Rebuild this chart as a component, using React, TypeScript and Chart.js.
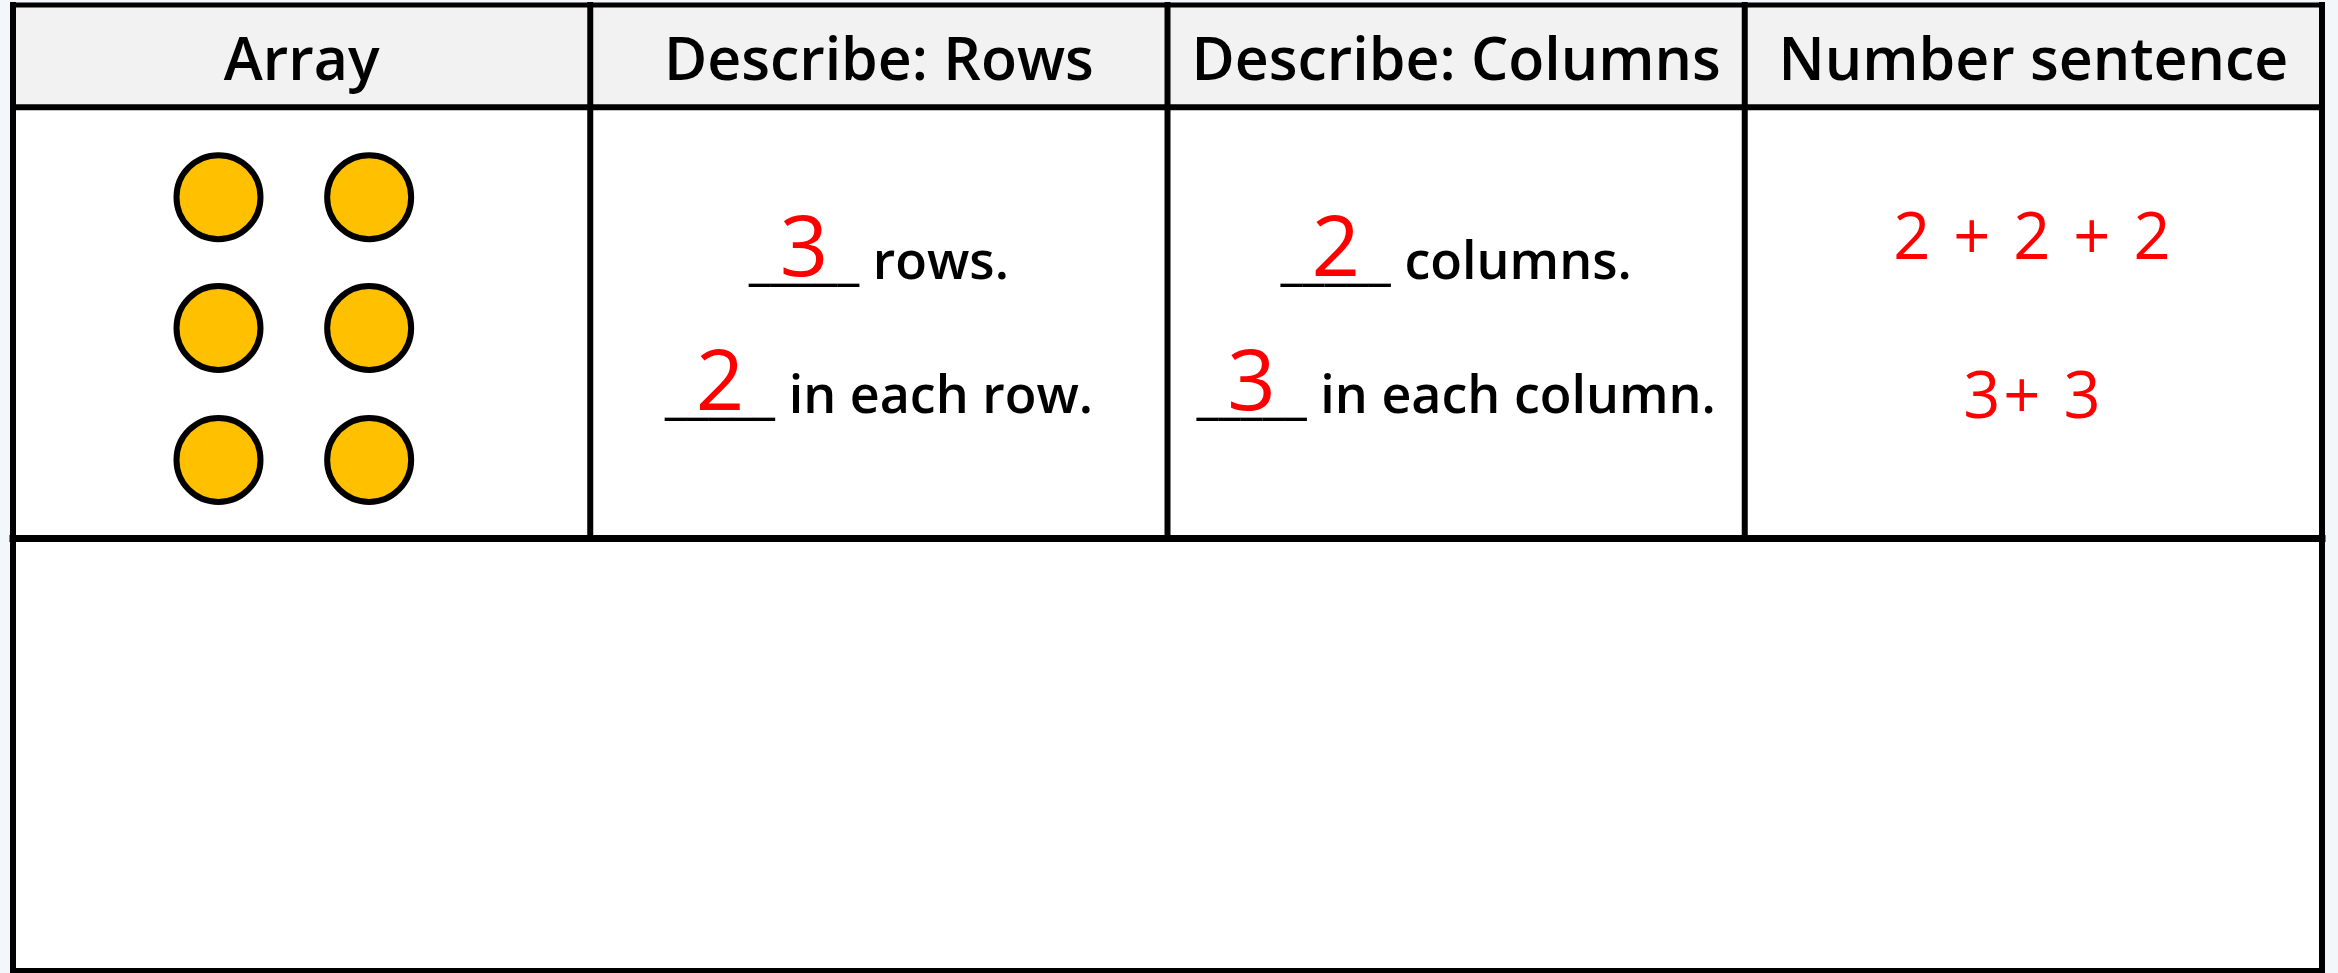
import React, { useEffect, useRef } from "react";
import { Chart, registerables } from "chart.js";
Chart.register(...registerables);

// ---- data ----
const headers = ["Array", "Describe: Rows", "Describe: Columns", "Number sentence"];
const colEdges = [0, 1, 2, 3, 4];
const rowEdges = [0, 1, 5.22, 9.45];
const arrayColumns = [0.356, 0.617];
const arrayRows = [1.88, 3.16, 4.45];
const rowsAnswers = ["3", "2"];
const rowsLabels = ["rows.", "in each row."];
const colsAnswers = ["2", "3"];
const colsLabels = ["columns.", "in each column."];
const sentences = ["2 + 2 + 2", "3+ 3"];
const headerBaseline = 0.73;
const lineBaselines = [2.68, 3.99];
const sentenceBaselines = [2.48, 4.04];

// ---- style ----
const PAGE_BG = "#f3f6fa";
const HEADER_BG = "#f2f2f2";
const FAMILY = "'Open Sans', 'Noto Sans', sans-serif";
const HEADER_FONT = `600 59px ${FAMILY}`;
const BODY_FONT = `600 52px ${FAMILY}`;
const ANSWER_FONT = `400 85px ${FAMILY}`;
const SENTENCE_FONT = `400 65px ${FAMILY}`;
const RED = "#ff0000";

function fillIn(ctx: CanvasRenderingContext2D, cx: number, baseY: number, answer: string, label: string) {
  ctx.font = BODY_FONT;
  const blank = "_____";
  const bw = ctx.measureText(blank).width;
  const sp = ctx.measureText(" ").width;
  const lw = ctx.measureText(label).width;
  const left = cx - (bw + sp + lw) / 2;
  ctx.textAlign = "left";
  ctx.fillStyle = "#000";
  ctx.fillText(blank, left, baseY);
  ctx.fillText(label, left + bw + sp, baseY);
  ctx.font = ANSWER_FONT;
  ctx.fillStyle = RED;
  ctx.textAlign = "center";
  ctx.fillText(answer, left + bw / 2, baseY - 3);
}

const tablePlugin = {
  id: "tablePlugin",
  beforeDraw(chart: any) {
    const { ctx, scales } = chart;
    const X = (v: number) => scales.x.getPixelForValue(v);
    const Y = (v: number) => scales.y.getPixelForValue(v);
    ctx.save();
    ctx.fillStyle = PAGE_BG;
    ctx.fillRect(0, 0, chart.width, chart.height);
    const x0 = X(colEdges[0]);
    const x1 = X(colEdges[colEdges.length - 1]);
    ctx.fillStyle = "#ffffff";
    ctx.fillRect(x0, Y(rowEdges[0]), x1 - x0, Y(rowEdges[rowEdges.length - 1]) - Y(rowEdges[0]));
    ctx.fillStyle = HEADER_BG;
    ctx.fillRect(x0, Y(rowEdges[0]), x1 - x0, Y(rowEdges[1]) - Y(rowEdges[0]));
    ctx.restore();
  },
  afterDatasetsDraw(chart: any) {
    const { ctx, scales } = chart;
    const X = (v: number) => scales.x.getPixelForValue(v);
    const Y = (v: number) => scales.y.getPixelForValue(v);
    const first = colEdges[0];
    const last = colEdges[colEdges.length - 1];
    const top = rowEdges[0];
    const bottom = rowEdges[rowEdges.length - 1];
    ctx.save();
    ctx.strokeStyle = "#000";
    ctx.lineCap = "square";
    rowEdges.forEach((r, i) => {
      ctx.lineWidth = i === 2 ? 7 : i === 0 ? 5 : 6;
      ctx.beginPath();
      ctx.moveTo(X(first), Y(r));
      ctx.lineTo(X(last), Y(r));
      ctx.stroke();
    });
    colEdges.forEach((c, i) => {
      const outer = i === 0 || i === colEdges.length - 1;
      ctx.lineWidth = 6;
      ctx.beginPath();
      ctx.moveTo(X(c), Y(top));
      ctx.lineTo(X(c), Y(outer ? bottom : rowEdges[2]));
      ctx.stroke();
    });
    ctx.fillStyle = "#000";
    ctx.font = HEADER_FONT;
    ctx.textAlign = "center";
    ctx.textBaseline = "alphabetic";
    headers.forEach((h, i) => {
      ctx.fillText(h, X(i + 0.5), Y(headerBaseline));
    });
    lineBaselines.forEach((b, i) => {
      fillIn(ctx, X(1.5), Y(b), rowsAnswers[i], rowsLabels[i]);
      fillIn(ctx, X(2.5), Y(b), colsAnswers[i], colsLabels[i]);
    });
    ctx.font = SENTENCE_FONT;
    ctx.fillStyle = RED;
    ctx.textAlign = "center";
    (ctx as any).letterSpacing = "3px";
    sentences.forEach((s, i) => {
      ctx.fillText(s, X(3.5), Y(sentenceBaselines[i]));
    });
    ctx.restore();
  },
};

export default function App() {
  const ref = useRef<HTMLCanvasElement | null>(null);
  useEffect(() => {
    if (!ref.current) return;
    const points = arrayRows.flatMap((y) => arrayColumns.map((x) => ({ x, y })));
    const chart = new Chart(ref.current, {
      type: "scatter",
      data: {
        datasets: [
          {
            data: points,
            pointRadius: 42,
            pointHoverRadius: 42,
            pointBackgroundColor: "#ffc000",
            pointBorderColor: "#000000",
            pointBorderWidth: 6,
            pointHoverBorderWidth: 6,
            clip: false,
          } as any,
        ],
      },
      options: {
        animation: false,
        responsive: false,
        devicePixelRatio: 1,
        events: [],
        layout: { autoPadding: false, padding: { left: 13, right: 16, top: 5, bottom: 2 } },
        scales: {
          x: { type: "linear", min: colEdges[0], max: colEdges[colEdges.length - 1], display: false },
          y: { type: "linear", min: rowEdges[0], max: rowEdges[rowEdges.length - 1], reverse: true, display: false },
        },
        plugins: { legend: { display: false }, tooltip: { enabled: false } },
      } as any,
      plugins: [tablePlugin],
    });
    return () => chart.destroy();
  }, []);
  return (
    <div style={{ position: "fixed", left: 0, top: 0, width: 2338, height: 973, overflow: "hidden" }}>
      <canvas ref={ref} width={2338} height={973} style={{ display: "block" }} />
    </div>
  );
}
